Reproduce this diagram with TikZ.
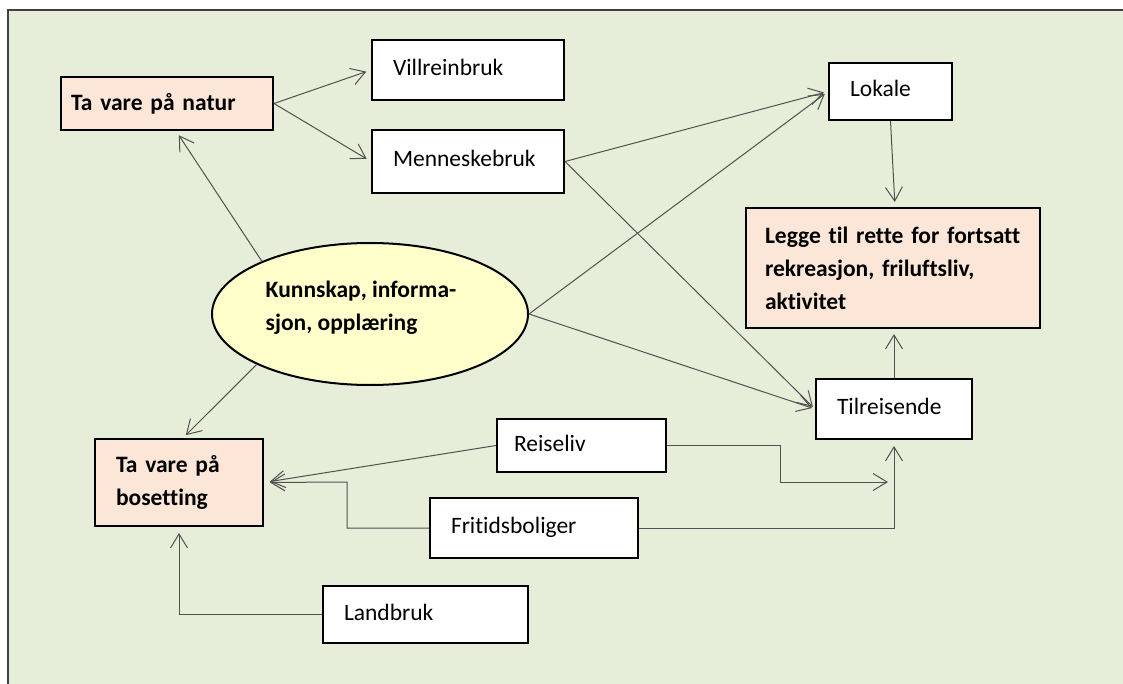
\documentclass[tikz,border=0pt]{standalone}
\usepackage{fontspec}
\setmainfont{Carlito}[Ligatures=NoCommon]
\usetikzlibrary{positioning,shapes.geometric,arrows.meta}
\definecolor{bgGreen}{RGB}{230,238,217}
\definecolor{peach}{RGB}{251,230,215}
\definecolor{paleYellow}{RGB}{255,255,204}
\definecolor{linkGray}{RGB}{80,80,80}
\tikzset{
  box/.style={draw=black, line width=2pt, fill=white, rectangle, inner xsep=21pt,
    inner ysep=0pt, align=left, font=\fontsize{23.5}{33}\selectfont},
  user/.style={box, text height=17pt, text depth=6pt},
  goal/.style={box, fill=peach, font=\fontsize{23.5}{33}\selectfont\bfseries},
  link/.style={draw=linkGray, line width=1pt, -{Straight Barb[length=14pt,width=17pt]}}
}

\begin{document}
\begin{tikzpicture}[x=1pt,y=-1pt]
  \useasboundingbox (0,0) rectangle (1123,684);
  \fill[bgGreen] (8,10) rectangle (1123,684);
  \draw[black!75, line width=1.5pt] (8,684) -- (8,10) -- (1123,10);

  % goals
  \node[goal, inner xsep=10pt, text width=192pt, minimum height=53pt] (natur) at (167,103.5) {Ta vare på natur};
  \node[goal, inner xsep=19pt, text width=256pt, minimum height=120pt] (legge) at (893,268)
    {Legge til rette for fortsatt\\ rekreasjon, friluftsliv,\\ aktivitet};
  \node[goal, text width=126pt, minimum height=87pt] (bosetting) at (179,482.5) {Ta vare på\\ bosetting};
  \node[ellipse, draw=black, line width=2pt, fill=paleYellow, minimum width=316pt, minimum height=142pt,
    inner sep=0pt, align=left, font=\fontsize{23.5}{33}\selectfont\bfseries] (kunnskap) at (370,314)
    {Kunnskap, informa-\hspace*{18pt}\\ sjon, opplæring\rule[-16pt]{0pt}{0pt}};

  % users
  \node[user, text width=150pt, minimum height=60pt] (villrein) at (468,70) {Villreinbruk};
  \node[user, text width=150pt, minimum height=63pt] (menneske) at (468,161.5) {Menneskebruk};
  \node[user, text width=81pt, minimum height=57pt] (lokale) at (890.5,91.5) {Lokale};
  \node[user, text width=114pt, minimum height=60pt] (tilreis) at (894,409) {Tilreisende};
  \node[user, inner xsep=17pt, text width=135pt, minimum height=53pt] (reiseliv) at (581.5,445.5) {Reiseliv};
  \node[user, text width=166pt, minimum height=60pt] (fritid) at (534,528) {Fritidsboliger};
  \node[user, text width=163pt, minimum height=57pt] (landbruk) at (425.5,614.5) {Landbruk};

  \coordinate (bendF) at (347,482);
  \coordinate (bendR) at (780,482);
  \coordinate (reisEnd) at (888,482);

  % arrows
  \draw[link, shorten >=5pt] (natur.east) -- (villrein.west);
  \draw[link, shorten >=5pt] (natur.east) -- (menneske.west);
  \draw[link, shorten >=5pt] (kunnskap.154) -- ([xshift=9pt]natur.south);
  \draw[link, shorten >=4pt] (kunnskap.204) -- ([xshift=4pt]bosetting.north);
  \draw[link, shorten >=4pt] (kunnskap.east) -- (lokale.west);
  \draw[link, shorten >=3pt] (kunnskap.east) -- (tilreis.west);
  \draw[link, shorten >=4pt] (menneske.east) -- (lokale.west);
  \draw[link, shorten >=3pt] (menneske.east) -- (tilreis.west);
  \draw[link, shorten >=5pt] (lokale.south) -- ([xshift=2pt]legge.north);
  \draw[link, shorten >=5pt] (tilreis.north) -- (tilreis.north |- legge.south);
  \draw[link, shorten >=6pt] (reiseliv.west) -- (bosetting.east);
  \draw[link, shorten >=6pt] (fritid.west) -| (bendF) -- (bosetting.east);
  \draw[link, shorten >=6pt] (landbruk.west) -| (bosetting.south);
  \draw[link] (reiseliv.east) -| (bendR) -- (reisEnd);
  \draw[link, shorten >=6pt] (fritid.east) -| (tilreis.south);
\end{tikzpicture}
\end{document}
